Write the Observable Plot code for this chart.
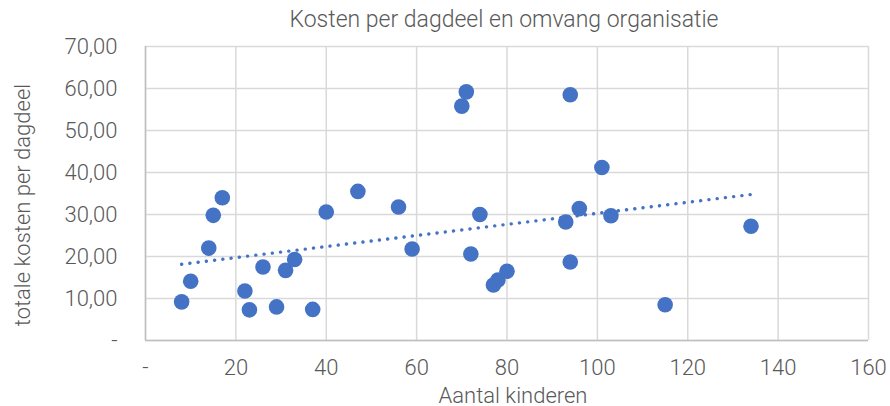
<!DOCTYPE html>
<html><head><meta charset="utf-8">
<script src="https://cdn.jsdelivr.net/npm/d3@7"></script>
<script src="https://cdn.jsdelivr.net/npm/@observablehq/plot@0.6"></script>
<style>body{margin:0;background:#fff}</style>
</head><body><div id="chart"></div>
<script>
const titleText = "Kosten per dagdeel en omvang organisatie";
const xLabel = "Aantal kinderen";
const yLabel = "totale kosten per dagdeel";
const kinderen = [8, 10, 14, 15, 17, 22, 23, 26, 29, 31, 33, 37, 40, 47, 56, 59, 70, 71, 74, 72, 77, 78, 80, 94, 93, 96, 94, 101, 103, 115, 134];
const kosten   = [9.2, 14.1, 22.0, 29.8, 34.0, 11.8, 7.3, 17.5, 8.0, 16.7, 19.3, 7.4, 30.6, 35.5, 31.8, 21.8, 55.8, 59.2, 30.0, 20.6, 13.2, 14.4, 16.5, 58.5, 28.2, 31.4, 18.7, 41.2, 29.7, 8.5, 27.2];
const xTicks = [0, 20, 40, 60, 80, 100, 120, 140, 160];
const yTicks = [0, 10, 20, 30, 40, 50, 60, 70];

const data = kinderen.map((x, i) => ({x, y: kosten[i]}));
const fx = d => d === 0 ? "-" : String(d);
const fy = d => d === 0 ? "-" : d.toFixed(2).replace(".", ",");
const font = "Roboto, 'DejaVu Sans Condensed', sans-serif";
const col = "#595959";
const fs = "22px";

const chart = Plot.plot({
  width: 890, height: 406,
  marginLeft: 145, marginRight: 22, marginTop: 46, marginBottom: 66,
  style: {fontFamily: font, fontSize: fs, fontWeight: 300, color: col, background: "#fff"},
  x: {domain: [0, 160]},
  y: {domain: [0, 70]},
  marks: [
    Plot.gridX(xTicks, {stroke: "#d9d9d9", strokeOpacity: 1, strokeWidth: 1.5}),
    Plot.gridY(yTicks, {stroke: "#d9d9d9", strokeOpacity: 1, strokeWidth: 1.5}),
    Plot.ruleX([0], {stroke: "#bfbfbf", strokeWidth: 1.5}),
    Plot.ruleY([0], {stroke: "#bfbfbf", strokeWidth: 1.5}),
    Plot.axisX({ticks: xTicks, tickFormat: fx, tickSize: 0, tickPadding: 19, label: null, fill: col}),
    Plot.axisY({ticks: yTicks, tickFormat: fy, tickSize: 0, tickPadding: 28, label: null, fill: col}),
    Plot.dot(data, {x: "x", y: "y", r: 7.8, fill: "#4472C4", stroke: "none"}),
    Plot.linearRegressionY(data, {x: "x", y: "y", ci: 0, stroke: "#4472C4", strokeWidth: 3.4, strokeDasharray: "0.1,8.2", strokeLinecap: "round"})
  ]
});
document.getElementById("chart").appendChild(chart);
const svg = d3.select(chart);
function label(x, y, t, rot, size) {
  const el = svg.append("text").attr("text-anchor", "middle").attr("dominant-baseline", "central")
    .attr("fill", col).style("font-family", font).style("font-size", size || fs).style("font-weight", 300).text(t);
  el.attr("transform", `translate(${x},${y})` + (rot ? " rotate(-90)" : ""));
}
label(504, 19, titleText, false, "23px");
label(513, 395, xLabel);
label(22, 205, yLabel, true);
</script>
</body></html>
